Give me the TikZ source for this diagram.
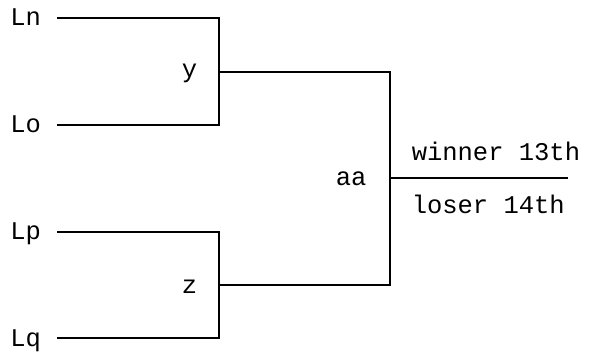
\documentclass[tikz,border=0pt]{standalone}
\usepackage{fontspec}
\setmainfont{Liberation Mono}
\usetikzlibrary{positioning}
\begin{document}
\begin{tikzpicture}[x=1pt,y=-1pt,line width=1.5pt,
  lab/.style={anchor=base west,inner sep=0pt,font=\fontsize{25.5}{26}\selectfont}]
\useasboundingbox (0,0) rectangle (589,356);
% entry points, match points
\coordinate (n) at (57,18);
\coordinate (o) at (57,125);
\coordinate (p) at (57,232);
\coordinate (q) at (57,338);
\coordinate (y) at (219,72);
\coordinate (z) at (219,285);
\coordinate (aa) at (390,178);
\coordinate (out) at (568,178);
\draw (n) -| (y) |- (o);
\draw (p) -| (z) |- (q);
\draw (y) -| (aa) |- (z);
\draw (aa) -- (out);
% labels
\node[lab] (Ln) at (9.5,25){Ln};
\node[lab] (Lo) at (9.5,132){Lo};
\node[lab] (Lp) at (9.5,239){Lp};
\node[lab] (Lq) at (9.5,346){Lq};
\node[lab] (ylab) at (181,77){y};
\node[lab] (zlab) at (181,293){z};
\node[lab] (aalab) at (335,185){aa};
\node[lab] (win) at (411,160){winner 13th};
\node[lab] (lose) at (411,213){loser 14th};
\end{tikzpicture}
\end{document}
